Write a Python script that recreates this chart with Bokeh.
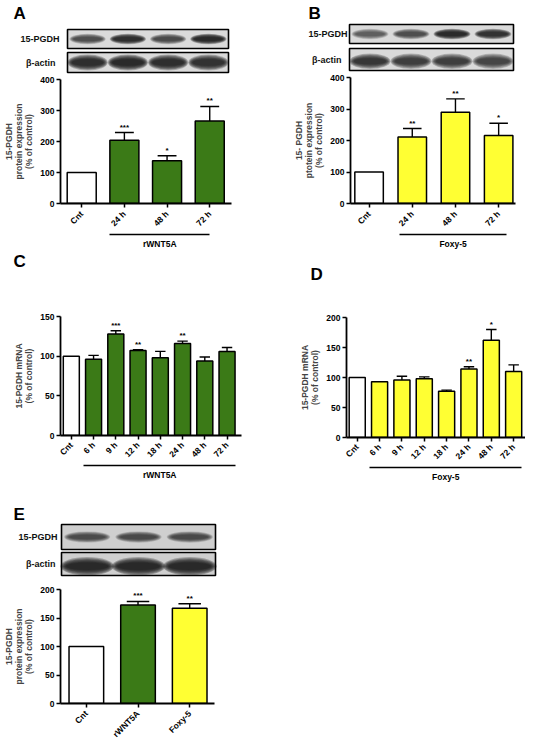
import math
from bokeh.plotting import figure
from bokeh.layouts import column, row
from bokeh.models import Range1d, FixedTicker, LinearAxis
from bokeh.core.properties import value
from bokeh.embed import file_html
from bokeh.resources import INLINE

FONT = "Liberation Sans"
GREEN = "#3b7a17"
YELLOW = "#ffff33"
WHITE = "#ffffff"
TICK_FS = "8.5px"

# ---------------- data ----------------
a_cats = ["Cnt", "24 h", "48 h", "72 h"]
a_vals = [100, 204, 138, 266]
a_err = [0, 25, 16, 47]
a_sig = ["", "***", "*", "**"]

b_cats = ["Cnt", "24 h", "48 h", "72 h"]
b_vals = [100, 211, 290, 216]
b_err = [0, 27, 42, 39]
b_sig = ["", "**", "**", "*"]

c_cats = ["Cnt", "6 h", "9 h", "12 h", "18 h", "24 h", "48 h", "72 h"]
c_vals = [100, 96, 128, 107, 98, 116, 94, 106]
c_err = [0, 5, 4, 1, 8, 3, 5, 5]
c_sig = ["", "", "***", "**", "", "**", "", ""]

d_cats = ["Cnt", "6 h", "9 h", "12 h", "18 h", "24 h", "48 h", "72 h"]
d_vals = [100, 93, 96, 98, 77, 114, 162, 110]
d_err = [0, 0, 6, 3, 2, 4, 18, 11]
d_sig = ["", "", "", "", "", "**", "*", ""]

e_cats = ["Cnt", "rWNT5A", "Foxy-5"]
e_vals = [100, 173, 167]
e_err = [0, 6, 8]
e_sig = ["", "***", "**"]

# western blot band darkness (0..1) per lane
blot_a_pgdh = [0.6, 0.95, 0.65, 1.0]
blot_a_actin = [0.95, 1.0, 0.95, 0.9]
blot_b_pgdh = [0.5, 0.6, 1.0, 0.9]
blot_b_actin = [0.85, 0.75, 0.75, 0.7]
blot_e_pgdh = [0.6, 0.65, 0.65]
blot_e_actin = [1.0, 1.0, 1.0]


def canvas(width, height):
    p = figure(width=width, height=height, x_range=Range1d(0, width),
               y_range=Range1d(height, 0), output_backend="svg",
               toolbar_location=None, min_border=0, frame_align=False,
               x_axis_location=None, y_axis_location=None)
    p.grid.visible = False
    p.outline_line_color = None
    return p


def letter(p, x, y, t):
    p.text(x=[x], y=[y], text=[t], text_font=value(FONT), text_font_style="bold",
           text_font_size="17px", text_baseline="middle", text_align="left",
           text_color="black")


def strip(p, x0, x1, y0, y1, dark, label, lx, bh=0.6, bw=0.9, dy=0.0, bg="#dadada"):
    n = len(dark)
    lw = (x1 - x0) / n
    h = y1 - y0
    p.quad(left=[x0], right=[x1], top=[y0], bottom=[y1], fill_color=bg,
           line_color=None)
    cx = [x0 + lw * (i + 0.5) for i in range(n)]
    cy = (y0 + y1) / 2 + dy * h
    for k in range(7):
        f = k / 6.0
        for i in range(n):
            p.ellipse(x=[cx[i]], y=[cy], width=lw * bw * (1.0 - 0.22 * f),
                      height=h * bh * (1.0 - 0.6 * f), fill_color="#151515",
                      fill_alpha=dark[i] * 0.26, line_color=None)
    p.quad(left=[x0], right=[x1], top=[y0], bottom=[y1], fill_color=None,
           line_color="black", line_width=1.6)
    p.text(x=[lx], y=[(y0 + y1) / 2], text=[label], text_font=value(FONT),
           text_font_style="bold", text_font_size="9px", text_align="right",
           text_baseline="middle", text_color="#111111")


def style_axis(ax):
    ax.axis_line_width = 1.8
    ax.major_tick_line_width = 1.5
    ax.major_tick_out = 4
    ax.major_tick_in = 0
    ax.minor_tick_line_color = None
    ax.major_label_text_font = FONT
    ax.major_label_text_font_style = "bold"
    ax.major_label_text_font_size = TICK_FS
    ax.major_label_text_color = "black"
    ax.axis_label_text_font = FONT
    ax.axis_label_text_font_style = "bold"
    ax.axis_label_text_font_size = "8.5px"
    ax.axis_label_text_line_height = 1.0
    ax.axis_label_standoff = 3


def bar_chart(cats, vals, errs, sigs, colors, yend, yticks, ylabel, width, height,
              bl, bt, bb, br, xs, xe, bw, group=None, label_standoff=4,
              show_xlabels=True):
    n = len(cats)
    xs_idx = list(range(n))
    p = figure(width=width, height=height, x_range=Range1d(xs, xe),
               y_range=Range1d(0, yend), output_backend="svg", toolbar_location=None,
               min_border_left=bl, min_border_right=br, min_border_top=bt,
               min_border_bottom=bb, frame_align=False)
    p.grid.visible = False
    p.outline_line_color = None
    p.vbar(x=xs_idx, top=vals, width=bw, bottom=0, fill_color=colors,
           line_color="black", line_width=1.5)
    cap = bw * 0.65
    ex, ey0, ey1, cx0, cx1 = [], [], [], [], []
    for i in range(n):
        if errs[i] > 0:
            ex.append(i); ey0.append(vals[i]); ey1.append(vals[i] + errs[i])
            cx0.append(i - cap / 2); cx1.append(i + cap / 2)
    p.segment(x0=ex, y0=ey0, x1=ex, y1=ey1, line_color="black", line_width=1.4)
    p.segment(x0=cx0, y0=ey1, x1=cx1, y1=ey1, line_color="black", line_width=1.4)
    sy = [vals[i] + errs[i] for i in range(n)]
    p.text(x=xs_idx, y=sy, text=sigs, text_font=value(FONT), text_font_style="bold",
           text_font_size="8px", text_align="center", text_baseline="bottom",
           y_offset=-1, text_color="black")

    p.xaxis.ticker = FixedTicker(ticks=xs_idx, minor_ticks=[])
    p.yaxis.ticker = FixedTicker(ticks=yticks, minor_ticks=[])
    p.yaxis.axis_label = ylabel
    for ax in p.axis:
        style_axis(ax)
    p.yaxis.major_label_standoff = 2
    if show_xlabels:
        p.xaxis.major_label_overrides = {i: c for i, c in enumerate(cats)}
        p.xaxis.major_label_orientation = math.pi / 4
        p.xaxis.major_label_standoff = label_standoff
    else:
        p.xaxis.major_label_overrides = {i: "" for i in xs_idx}
        p.xaxis.major_label_text_font_size = "1px"
        p.xaxis.major_label_standoff = 0
    if group is not None:
        name, g0, g1 = group
        mid = round((g0 + g1) / 2, 3)
        gax = LinearAxis(ticker=FixedTicker(ticks=[mid], minor_ticks=[]),
                         bounds=(g0, g1), major_label_overrides={mid: name})
        style_axis(gax)
        gax.axis_line_width = 1.5
        gax.major_tick_line_color = None
        gax.major_tick_out = 0
        gax.major_label_standoff = 4
        p.add_layout(gax, "below")
    return p


def tick_labels(chart, cats, width, height, bl, br):
    p = figure(width=width, height=height, x_range=chart.x_range,
               y_range=Range1d(-height, 0), output_backend="svg",
               toolbar_location=None, min_border_left=bl, min_border_right=br,
               min_border_top=0, min_border_bottom=0, frame_align=False,
               x_axis_location=None, y_axis_location=None)
    p.grid.visible = False
    p.outline_line_color = None
    p.text(x=list(range(len(cats))), y=[-2.5] * len(cats), text=cats,
           angle=math.pi / 4, text_font=value(FONT), text_font_style="bold",
           text_font_size=TICK_FS, text_align="right", text_baseline="middle",
           text_color="black")
    return p


# ---------------- left column (x from 0) ----------------
LW = 268
blotA = canvas(LW, 76)
letter(blotA, 13, 12.5, "A")
strip(blotA, 67, 228, 29, 48, blot_a_pgdh, "15-PGDH", 59, bh=0.55)
strip(blotA, 67, 228, 52, 72, blot_a_actin, "\u03b2-actin", 55, bh=0.8, bw=1.0)

chartA = bar_chart(a_cats, a_vals, a_err, a_sig, [WHITE, GREEN, GREEN, GREEN], 400,
                   [0, 100, 200, 300, 400],
                   "15-PGDH\nprotein expression\n(% of control)",
                   LW, 177, 60, 3, 50, 37, -0.497, 3.51, 0.68,
                   group=("rWNT5A", 1 - 0.34, 3.0), label_standoff=5)

letterC = canvas(LW, 30)
letter(letterC, 13, 7.5, "C")

chartC = bar_chart(c_cats, c_vals, c_err, c_sig,
                   [WHITE] + [GREEN] * 7, 150, [0, 50, 100, 150],
                   "15-PGDH mRNA\n(% of control)",
                   LW, 207, 60, 33, 55, 27, -0.486, 7.65, 0.72,
                   group=("rWNT5A", 1 - 0.45, 7.4), label_standoff=4)

blotE = canvas(LW, 96)
letter(blotE, 13, 24, "E")
strip(blotE, 61, 215, 34, 59, blot_e_pgdh, "15-PGDH", 57, bh=0.45, bg="#cfcfcf")
strip(blotE, 61, 215, 62, 85, blot_e_actin, "\u03b2-actin", 55, bh=0.8, bw=1.05,
      dy=0.1, bg="#cfcfcf")

chartE = bar_chart(e_cats, e_vals, e_err, e_sig, [WHITE, GREEN, YELLOW], 200,
                   [0, 50, 100, 150, 200],
                   "15-PGDH\nprotein expression\n(% of control)",
                   LW, 123, 60, 3, 6, 54, -0.5, 2.48, 0.67, show_xlabels=False)
labE = tick_labels(chartE, e_cats, LW, 32, 60, 54)

# ---------------- right column (x from 268) ----------------
RW = 257
blotB = canvas(RW, 74)
letter(blotB, 40, 12.5, "B")
strip(blotB, 81, 245, 24, 43, blot_b_pgdh, "15-PGDH", 79, bh=0.55)
strip(blotB, 81, 245, 48, 70, blot_b_actin, "\u03b2-actin", 73, bh=0.7, bw=1.0, dy=0.08)

chartB = bar_chart(b_cats, b_vals, b_err, b_sig, [WHITE, YELLOW, YELLOW, YELLOW], 400,
                   [0, 100, 200, 300, 400],
                   "15- PGDH\nptotein expression\n(% of control)",
                   RW, 179, 82, 3, 50, 10, -0.43, 3.39, 0.66,
                   group=("Foxy-5", 1 - 0.3, 3.19), label_standoff=5)

letterD = canvas(RW, 30)
letter(letterD, 42, 20.5, "D")

chartD = bar_chart(d_cats, d_vals, d_err, d_sig, [WHITE] + [YELLOW] * 7, 200,
                   [0, 50, 100, 150, 200],
                   "15-PGDH mRNA\n(% of control)",
                   RW, 207, 78, 34, 53, 0, -0.48, 7.53, 0.72,
                   group=("Foxy-5", 1 - 0.45, 7.37), label_standoff=4)

left = column(blotA, chartA, letterC, chartC, blotE, chartE, labE, spacing=0)
right = column(blotB, chartB, letterD, chartD, spacing=0)
layout = row(left, right, spacing=0)

with open("out.html", "w") as f:
    f.write(file_html(layout, INLINE))
